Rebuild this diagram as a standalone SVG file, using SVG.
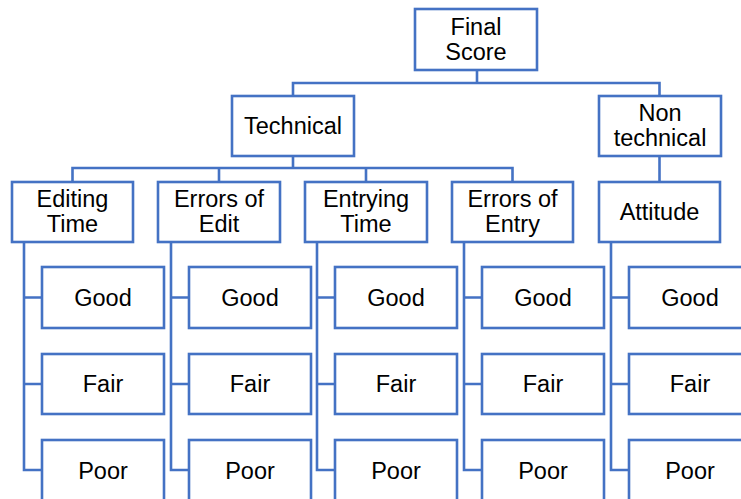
<svg xmlns="http://www.w3.org/2000/svg" width="741" height="499" viewBox="0 0 741 499">
<style>
rect{fill:#fff;stroke:#4472C4;stroke-width:2.6}
.c path{fill:none;stroke:#4472C4;stroke-width:2.6}
text{font-family:"Liberation Sans",Arial,sans-serif;font-size:23.5px;fill:#000;text-anchor:middle}
</style>
<rect x="0" y="0" width="741" height="499" style="stroke:none"/>
<g class="c">
<path d="M477 70V83M293 96V83H659.5V96"/>
<path d="M293 156V168M72.5 182V168H512.5V182M219 168V182M366 168V182"/>
<path d="M659.5 156V182"/>
<path d="M24 242V470H42M24 297.5H42M24 384H42"/>
<path d="M171 242V470H189M171 297.5H189M171 384H189"/>
<path d="M317 242V470H335M317 297.5H335M317 384H335"/>
<path d="M464 242V470H482M464 297.5H482M464 384H482"/>
<path d="M611 242V470H629M611 297.5H629M611 384H629"/>
</g>
<g id="final"><rect x="415" y="9" width="122" height="61"/><text x="476" y="35">Final</text><text x="476" y="60">Score</text></g>
<g id="technical"><rect x="232" y="96" width="122" height="60"/><text x="293" y="134">Technical</text></g>
<g id="nontechnical"><rect x="599" y="96" width="122" height="60"/><text x="660" y="121">Non</text><text x="660" y="146">technical</text></g>
<g id="editingtime"><rect x="12" y="182" width="121" height="60"/><text x="72.5" y="207">Editing</text><text x="72.5" y="231.5">Time</text></g>
<g id="errorsedit"><rect x="158" y="182" width="122" height="60"/><text x="219" y="207">Errors of</text><text x="219" y="231.5">Edit</text></g>
<g id="entryingtime"><rect x="305" y="182" width="122" height="60"/><text x="366" y="207">Entrying</text><text x="366" y="231.5">Time</text></g>
<g id="errorsentry"><rect x="452" y="182" width="121" height="60"/><text x="512.5" y="207">Errors of</text><text x="512.5" y="231.5">Entry</text></g>
<g id="attitude"><rect x="599" y="182" width="121" height="60"/><text x="659.5" y="220">Attitude</text></g>
<g id="good1"><rect x="42" y="267" width="122" height="61"/><text x="103" y="305.5">Good</text></g>
<g id="fair1"><rect x="42" y="354" width="122" height="60"/><text x="103" y="392">Fair</text></g>
<g id="poor1"><rect x="42" y="440" width="122" height="62"/><text x="103" y="478.5">Poor</text></g>
<g id="good2"><rect x="189" y="267" width="122" height="61"/><text x="250" y="305.5">Good</text></g>
<g id="fair2"><rect x="189" y="354" width="122" height="60"/><text x="250" y="392">Fair</text></g>
<g id="poor2"><rect x="189" y="440" width="122" height="62"/><text x="250" y="478.5">Poor</text></g>
<g id="good3"><rect x="335" y="267" width="122" height="61"/><text x="396" y="305.5">Good</text></g>
<g id="fair3"><rect x="335" y="354" width="122" height="60"/><text x="396" y="392">Fair</text></g>
<g id="poor3"><rect x="335" y="440" width="122" height="62"/><text x="396" y="478.5">Poor</text></g>
<g id="good4"><rect x="482" y="267" width="122" height="61"/><text x="543" y="305.5">Good</text></g>
<g id="fair4"><rect x="482" y="354" width="122" height="60"/><text x="543" y="392">Fair</text></g>
<g id="poor4"><rect x="482" y="440" width="122" height="62"/><text x="543" y="478.5">Poor</text></g>
<g id="good5"><rect x="629" y="267" width="122" height="61"/><text x="690" y="305.5">Good</text></g>
<g id="fair5"><rect x="629" y="354" width="122" height="60"/><text x="690" y="392">Fair</text></g>
<g id="poor5"><rect x="629" y="440" width="122" height="62"/><text x="690" y="478.5">Poor</text></g>
</svg>
